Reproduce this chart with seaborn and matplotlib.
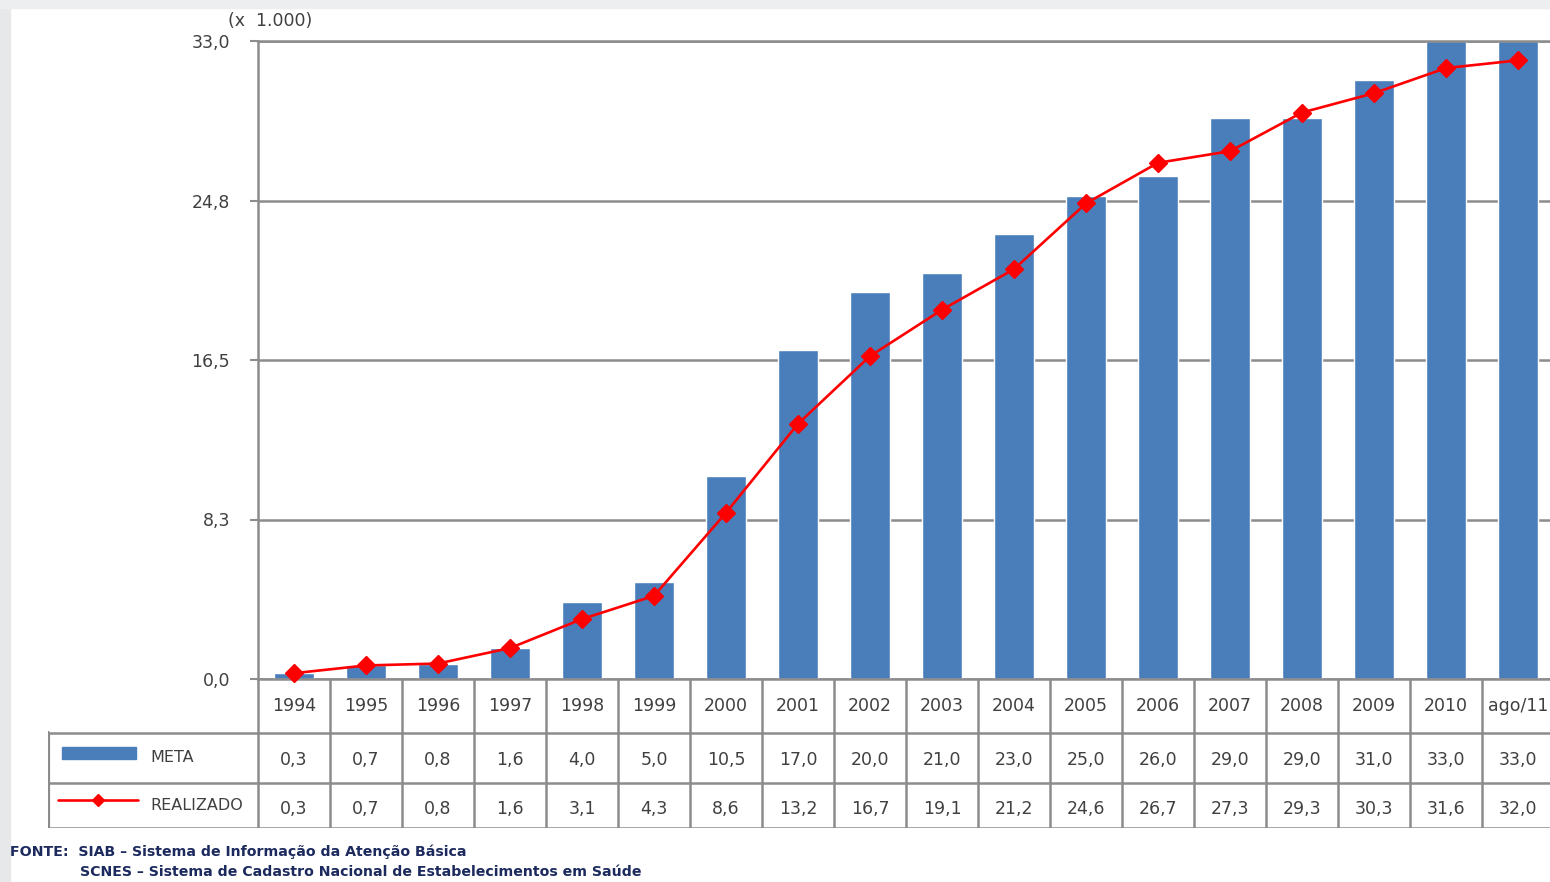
import matplotlib
matplotlib.use("Agg")
import matplotlib.pyplot as plt
from matplotlib import font_manager
from matplotlib.patches import Rectangle
from matplotlib.lines import Line2D
import numpy as np
import seaborn as sns

periodos = ['1994', '1995', '1996', '1997', '1998', '1999', '2000', '2001', '2002',
            '2003', '2004', '2005', '2006', '2007', '2008', '2009', '2010', 'ago/11']
meta = [0.3, 0.7, 0.8, 1.6, 4.0, 5.0, 10.5, 17.0, 20.0, 21.0, 23.0, 25.0, 26.0,
        29.0, 29.0, 31.0, 33.0, 33.0]
realizado = [0.3, 0.7, 0.8, 1.6, 3.1, 4.3, 8.6, 13.2, 16.7, 19.1, 21.2, 24.6, 26.7,
             27.3, 29.3, 30.3, 31.6, 32.0]
yticks = [0, 8.25, 16.5, 24.75, 33]
ytick_labels = ['0,0', '8,3', '16,5', '24,8', '33,0']
serie_nomes = ['META', 'REALIZADO']
fonte = ['FONTE:  SIAB \u2013 Sistema de Informa\u00e7\u00e3o da Aten\u00e7\u00e3o B\u00e1sica',
         'SCNES \u2013 Sistema de Cadastro Nacional de Estabelecimentos em Sa\u00fade']

fmt = lambda v: f"{v:.1f}".replace('.', ',')

sns.set_theme(style='white')
plt.rcParams['font.family'] = ['DejaVu Sans']

names = {f.name for f in font_manager.fontManager.ttflist}
narrow = 'Liberation Sans Narrow' if 'Liberation Sans Narrow' in names else 'DejaVu Sans'

BLUE = '#4a7ebb'
RED = '#ff0000'
GRID = '#8c8c8c'
TXT = '#404040'
W, H = 1550, 882


def rect(x0, y0, x1, y1):
    return [x0 / W, 1 - y1 / H, (x1 - x0) / W, (y1 - y0) / H]


fig = plt.figure(figsize=(W / 100, H / 100), dpi=100)
fig.patch.set_facecolor('white')
# light grey frame of the screenshot
fig.patches.append(Rectangle((0, 0), 10 / W, 1, transform=fig.transFigure, color='#e6e8ea', zorder=0))
fig.patches.append(Rectangle((0, 1 - 8 / H), 1, 8 / H, transform=fig.transFigure, color='#eceef0', zorder=0))

ax = fig.add_axes(rect(258, 41, 1554, 679))
sns.barplot(x=periodos, y=meta, color=BLUE, saturation=1, width=0.55, ax=ax, zorder=2)
ax.plot(np.arange(len(periodos)), realizado, color=RED, lw=1.9, marker='D', ms=9.5,
        mec=RED, zorder=5, clip_on=False)
ax.set_xlim(-0.5, len(periodos) - 0.5)
ax.set_ylim(0, 33)
ax.set_yticks(yticks)
ax.set_yticklabels(ytick_labels, color=TXT, fontsize=12.5)
ax.set_xticks([])
ax.set_xlabel('')
ax.set_ylabel('')
ax.yaxis.grid(True, color=GRID, lw=1.8)
ax.set_axisbelow(True)
ax.tick_params(axis='y', left=True, length=6, width=1.5, color=GRID, pad=14)
for s in ['left', 'bottom', 'top']:
    ax.spines[s].set_color(GRID)
    ax.spines[s].set_linewidth(1.8)
ax.spines['right'].set_visible(False)
fig.text(228 / W, 1 - 21 / H, '(x  1.000)', fontsize=12.5, color=TXT, ha='left', va='center')

# data table under the chart
tax = fig.add_axes(rect(48, 679, 1554, 828))
x_left = -0.5 - 210 / 72
tax.set_xlim(x_left, len(periodos) - 0.5)
tax.set_ylim(149, 0)
tax.axis('off')
rows = [0, 54, 104, 149]
for k in range(len(periodos) + 1):
    tax.add_line(Line2D([k - 0.5, k - 0.5], [0, 149], color=GRID, lw=1.8))
tax.add_line(Line2D([x_left, x_left], [rows[1], rows[3]], color=GRID, lw=3))
for r in rows[1:]:
    tax.add_line(Line2D([x_left, len(periodos) - 0.5], [r, r], color=GRID, lw=1.8))

for i, p in enumerate(periodos):
    tax.text(i, (rows[0] + rows[1]) / 2, p, ha='center', va='center', fontsize=12.5, color=TXT)
    tax.text(i, (rows[1] + rows[2]) / 2 + 2, fmt(meta[i]), ha='center', va='center', fontsize=12.5, color=TXT)
    tax.text(i, (rows[2] + rows[3]) / 2 + 3, fmt(realizado[i]), ha='center', va='center', fontsize=12.5, color=TXT)

px = lambda v: (v - 258) / 72 - 0.5
tax.add_patch(Rectangle((px(62), 68), px(136) - px(62), 12, color=BLUE))
tax.add_line(Line2D([px(58), px(138)], [121, 121], color=RED, lw=1.9))
tax.add_line(Line2D([px(98)], [121], color=RED, marker='D', ms=6))
tax.text(px(150), 78, serie_nomes[0], ha='left', va='center', fontsize=11.5, color=TXT, family=narrow)
tax.text(px(150), 126, serie_nomes[1], ha='left', va='center', fontsize=11.5, color=TXT, family=narrow)

fig.text(10 / W, 1 - 852 / H, fonte[0], ha='left', va='center', fontsize=10.2,
         color='#1c2a5e', weight='bold', family=narrow)
fig.text(80 / W, 1 - 872 / H, fonte[1], ha='left', va='center', fontsize=10.2,
         color='#1c2a5e', weight='bold', family=narrow)

fig.savefig('out.png', dpi=100, facecolor=fig.get_facecolor())
